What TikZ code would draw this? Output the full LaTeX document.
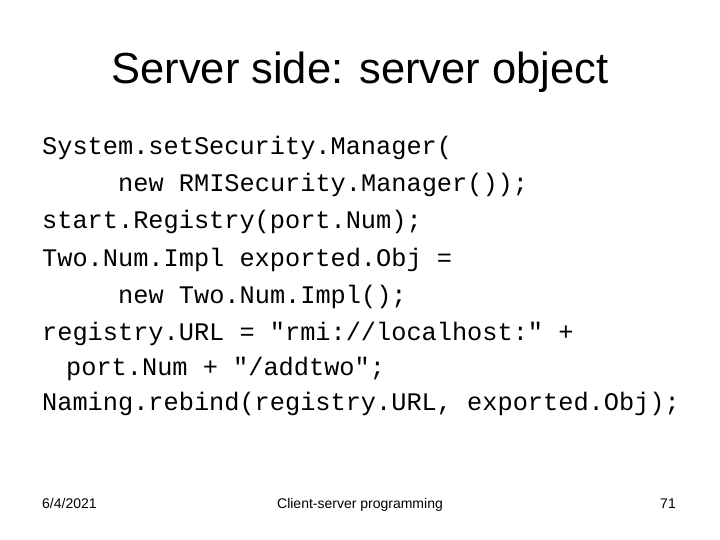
\documentclass[tikz,border=0pt]{standalone}
\usepackage{fontspec}
\setmainfont{Liberation Sans}
\newfontfamily\codefont{Liberation Mono}
\begin{document}
\begin{tikzpicture}[x=1pt,y=-1pt,
  code/.style={anchor=base west,inner sep=0,font=\codefont\fontsize{25.3}{28}\selectfont},
  foot/.style={inner sep=0,font=\fontsize{14}{16}\selectfont}]
\useasboundingbox (0,0) rectangle (720,540);
\node[inner sep=0,anchor=base,font=\fontsize{43.5}{48}\selectfont] (title) at (360,84) {Server side: server object};
\node[code] (l1) at (42,155) {System.setSecurity.Manager(};
\node[code] (l2) at (118,192) {new RMISecurity.Manager());};
\node[code] (l3) at (42,229) {start.Registry(port.Num);};
\node[code] (l4) at (42,266) {Two.Num.Impl exported.Obj =};
\node[code] (l5) at (118,303) {new Two.Num.Impl();};
\node[code] (l6) at (42,340) {registry.URL =  "rmi://localhost:" +};
\node[code] (l7) at (66,375) {port.Num + "/addtwo";};
\node[code] (l8) at (42,410) {Naming.rebind(registry.URL, exported.Obj);};
\node[foot,anchor=base west] (date) at (42,508) {6/4/2021};
\node[foot,anchor=base] (course) at (360,508) {Client-server programming};
\node[foot,anchor=base east] (num) at (676,508) {71};
\end{tikzpicture}
\end{document}
